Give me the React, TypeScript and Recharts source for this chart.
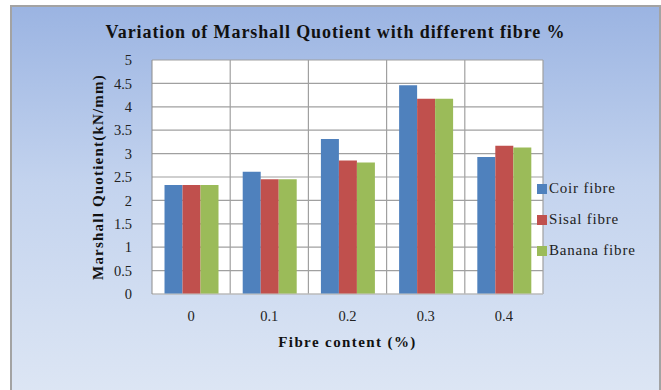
import { BarChart, Bar, XAxis, YAxis, CartesianGrid } from 'recharts';

const fibreContent = ['0', '0.1', '0.2', '0.3', '0.4'];
const coirFibre = [2.33, 2.61, 3.31, 4.46, 2.93];
const sisalFibre = [2.33, 2.45, 2.85, 4.17, 3.17];
const bananaFibre = [2.33, 2.45, 2.81, 4.17, 3.13];
const yTicks = [0, 0.5, 1, 1.5, 2, 2.5, 3, 3.5, 4, 4.5, 5];

const data = fibreContent.map((c, i) => ({
  content: c,
  coir: coirFibre[i],
  sisal: sisalFibre[i],
  banana: bananaFibre[i],
}));

const series = [
  { key: 'coir', name: 'Coir fibre', color: '#4F81BD' },
  { key: 'sisal', name: 'Sisal fibre', color: '#C0504D' },
  { key: 'banana', name: 'Banana fibre', color: '#9BBB59' },
];

const font = '"Liberation Serif", "Times New Roman", serif';

function LegendBox() {
  return (
    <div
      style={{
        position: 'absolute',
        left: 525,
        top: 166,
        fontFamily: font,
        fontSize: 15,
        letterSpacing: 0.8,
        color: '#222',
      }}
    >
      {series.map((s) => (
        <div key={s.key} style={{ display: 'flex', alignItems: 'center', height: 31 }}>
          <span style={{ width: 10, height: 10, background: s.color, marginRight: 2 }} />
          <span>{s.name}</span>
        </div>
      ))}
    </div>
  );
}

// vertical grid lines sit on category boundaries, not on the ticks
const boundaryLines = ({ offset }: any) =>
  fibreContent.map((_, i) => offset.left + (i * offset.width) / fibreContent.length).slice(1)
    .concat([offset.left + offset.width]);

export default function App() {
  return (
    <div
      style={{
        position: 'fixed',
        left: 10,
        top: 5,
        width: 647,
        height: 390,
        border: '2px solid #a3a3a3',
        borderBottom: 'none',
        background: 'linear-gradient(to bottom, #9bb4e2 0%, #c3d3ee 45%, #dde6f4 100%)',
        fontFamily: font,
      }}
    >
      <div
        style={{
          position: 'absolute',
          top: 15,
          width: '100%',
          textAlign: 'center',
          fontWeight: 'bold',
          fontSize: 18,
          letterSpacing: 0.9,
          color: '#111',
        }}
      >
        Variation of Marshall Quotient with different fibre %
      </div>
      <BarChart
        width={647}
        height={383}
        data={data}
        margin={{ top: 53, right: 116, bottom: 0, left: 0 }}
        barCategoryGap="16%"
        barGap={0}
      >
        <CartesianGrid
          stroke="#a0a0a0"
          strokeWidth={1.2}
          fill="#ffffff"
          fillOpacity={1}
          verticalCoordinatesGenerator={boundaryLines}
        />
        <XAxis
          dataKey="content"
          tickLine={false}
          axisLine={{ stroke: '#c8c8c8' }}
          tickSize={0}
          tickMargin={17}
          height={96}
          tick={{ fill: '#222', fontSize: 14.5, fontFamily: font }}
          label={{
            value: 'Fibre content (%)',
            position: 'insideTop',
            offset: 42,
            style: { fontWeight: 'bold', fontSize: 15, letterSpacing: 1.4, fill: '#111', fontFamily: font },
          }}
        />
        <YAxis
          width={140}
          domain={[0, 5]}
          ticks={yTicks}
          interval={0}
          tickLine={false}
          axisLine={{ stroke: '#8c8c8c' }}
          tickSize={0}
          tickMargin={20}
          tick={{ fill: '#222', fontSize: 14.5, fontFamily: font }}
          label={{
            value: 'Marshall Quotient(kN/mm)',
            angle: -90,
            position: 'insideLeft',
            offset: 86,
            style: {
              textAnchor: 'middle',
              fontWeight: 'bold',
              fontSize: 15,
              letterSpacing: 1.2,
              fill: '#111',
              fontFamily: font,
            },
          }}
        />
        {series.map((s) => (
          <Bar key={s.key} dataKey={s.key} name={s.name} fill={s.color} isAnimationActive={false} />
        ))}
      </BarChart>
      <LegendBox />
    </div>
  );
}
